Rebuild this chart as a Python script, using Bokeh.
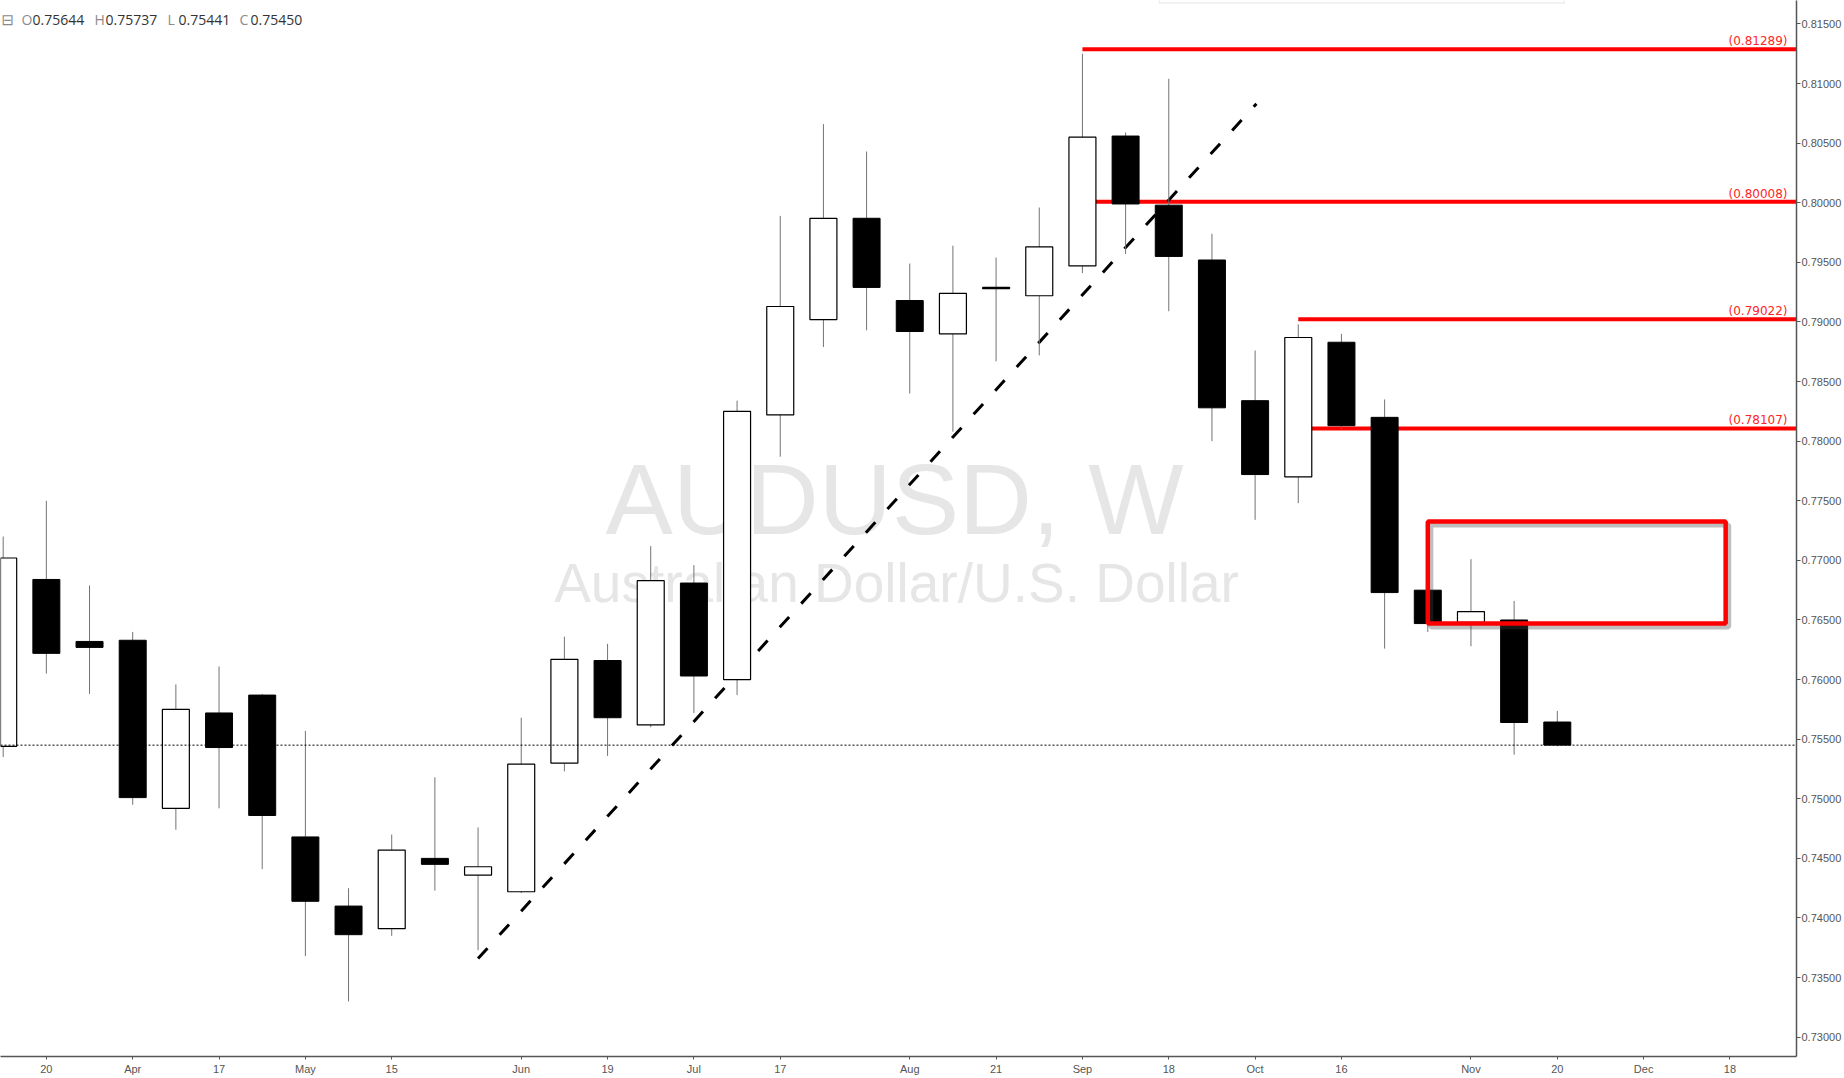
import datetime as dt
from bokeh.plotting import figure
from bokeh.models import (Range1d, FixedTicker, SingleIntervalTicker, NumeralTickFormatter,
                          Span, Label, ColumnDataSource, BoxAnnotation)
from bokeh.core.properties import value
from bokeh.embed import file_html
from bokeh.resources import INLINE

# ---------------- data ----------------
week_dates = ["2017-03-13", "2017-03-20", "2017-03-27", "2017-04-03", "2017-04-10", "2017-04-17",
              "2017-04-24", "2017-05-01", "2017-05-08", "2017-05-15", "2017-05-22", "2017-05-29",
              "2017-06-05", "2017-06-12", "2017-06-19", "2017-06-26", "2017-07-03", "2017-07-10",
              "2017-07-17", "2017-07-24", "2017-07-31", "2017-08-07", "2017-08-14", "2017-08-21",
              "2017-08-28", "2017-09-04", "2017-09-11", "2017-09-18", "2017-09-25", "2017-10-02",
              "2017-10-09", "2017-10-16", "2017-10-23", "2017-10-30", "2017-11-06", "2017-11-13",
              "2017-11-20"]
opens = [0.7544, 0.7684, 0.7632, 0.7633, 0.7492, 0.7572, 0.7587, 0.7468, 0.7410, 0.7391,
         0.7450, 0.7436, 0.7422, 0.7530, 0.7616, 0.7562, 0.7681, 0.7600, 0.7822, 0.7902,
         0.7987, 0.7918, 0.7890, 0.7928, 0.7922, 0.7947, 0.8056, 0.7998, 0.7952, 0.7834,
         0.7770, 0.7883, 0.7820, 0.7675, 0.7648, 0.7650, 0.75644]
highs = [0.7720, 0.7750, 0.7679, 0.7640, 0.7596, 0.7611, 0.7588, 0.7557, 0.7425, 0.7470,
         0.7518, 0.7476, 0.7568, 0.7636, 0.7630, 0.7712, 0.7696, 0.7834, 0.7989, 0.8066,
         0.8043, 0.7949, 0.7964, 0.7954, 0.7996, 0.8125, 0.8059, 0.8104, 0.7974, 0.7876,
         0.7898, 0.7890, 0.7835, 0.7675, 0.7701, 0.7666, 0.75737]
lows = [0.7535, 0.7605, 0.7588, 0.7495, 0.7474, 0.7492, 0.7441, 0.7368, 0.7330, 0.7385,
        0.7423, 0.7373, 0.7421, 0.7523, 0.7536, 0.7560, 0.7572, 0.7587, 0.7787, 0.7879,
        0.7893, 0.7840, 0.7808, 0.7867, 0.7872, 0.7941, 0.7957, 0.7909, 0.7800, 0.7734,
        0.7748, 0.7810, 0.7626, 0.7640, 0.7628, 0.7537, 0.75441]
closes = [0.7702, 0.7622, 0.7627, 0.7501, 0.7575, 0.7543, 0.7486, 0.7414, 0.7386, 0.7457,
          0.7445, 0.7443, 0.7529, 0.7617, 0.7568, 0.7683, 0.7603, 0.7825, 0.7913, 0.7987,
          0.7929, 0.7892, 0.7924, 0.7929, 0.7963, 0.8055, 0.7999, 0.7955, 0.7828, 0.7772,
          0.7887, 0.7813, 0.7673, 0.7647, 0.7657, 0.7564, 0.75450]

tick_dates = ["2017-03-20", "2017-04-03", "2017-04-17", "2017-05-01", "2017-05-15", "2017-06-05",
              "2017-06-19", "2017-07-03", "2017-07-17", "2017-08-07", "2017-08-21", "2017-09-04",
              "2017-09-18", "2017-10-02", "2017-10-16", "2017-11-06", "2017-11-20", "2017-12-04",
              "2017-12-18"]
tick_labels = ["20", "Apr", "17", "May", "15", "Jun", "19", "Jul", "17", "Aug", "21", "Sep",
               "18", "Oct", "16", "Nov", "20", "Dec", "18"]

level_values = [0.81289, 0.80008, 0.79022, 0.78107]
level_start_dates = ["2017-09-04", "2017-09-04", "2017-10-09", "2017-10-09"]

trend_weeks = [11.0, 29.03]
trend_prices = [0.7366, 0.8083]

zone_weeks = [33.0, 39.9]
zone_prices = [0.76471, 0.77327]

symbol_text = "AUDUSD, W"
description_text = "Australian Dollar/U.S. Dollar"

# ---------------- helpers ----------------
d0 = dt.date.fromisoformat(week_dates[0])


def wk(s):
    return (dt.date.fromisoformat(s) - d0).days / 7.0


xs = [wk(d) for d in week_dates]
up = [c >= o for o, c in zip(opens, closes)]


def src(mask):
    idx = [i for i, m in enumerate(mask) if m]
    return ColumnDataSource(dict(
        x=[xs[i] for i in idx],
        top=[max(opens[i], closes[i]) for i in idx],
        bottom=[min(opens[i], closes[i]) for i in idx],
    ))


FRAME_W, FRAME_H = 1796, 1056
x_range = Range1d(-0.0623, 41.541)
y_range = Range1d(0.72838, 0.81697)

p = figure(frame_width=FRAME_W, frame_height=FRAME_H, x_range=x_range, y_range=y_range,
           y_axis_location="right", output_backend="svg", toolbar_location=None,
           min_border_left=0, min_border_top=0, min_border_right=48, min_border_bottom=22,
           background_fill_color="white", border_fill_color="white")
p.outline_line_color = None
p.grid.visible = False

# watermark
p.add_layout(Label(x=894, y=FRAME_H - 498, x_units="screen", y_units="screen", text=symbol_text,
                   text_align="center", text_baseline="alphabetic", text_font="Liberation Sans",
                   text_font_size="101px", text_color="#e6e6e6", level="underlay"))
p.add_layout(Label(x=896, y=FRAME_H - 582, x_units="screen", y_units="screen", text=description_text,
                   text_align="center", text_baseline="alphabetic", text_font="Liberation Sans",
                   text_font_size="55px", text_color="#e6e6e6", level="underlay"))

# horizontal levels
p.ray(x=[wk(d) for d in level_start_dates], y=level_values, length=0, angle=0,
      line_color="#ff0000", line_width=4)

# trend line
p.line(trend_weeks, trend_prices, line_color="black", line_width=3, line_dash="14 18")

# candles
p.segment(x0=xs, y0=lows, x1=xs, y1=highs, line_color="#737373", line_width=1)
p.vbar(x="x", top="top", bottom="bottom", width=0.625, source=src(up),
       fill_color="white", line_color="black", line_width=1.2)
p.vbar(x="x", top="top", bottom="bottom", width=0.625, source=src([not u for u in up]),
       fill_color="black", line_color="black", line_width=1)

# zone rectangle with shadow
p.quad(left=[zone_weeks[0] + 0.07], right=[zone_weeks[1] + 0.07],
       bottom=[zone_prices[0] - 0.0003], top=[zone_prices[1] - 0.0003],
       fill_color=None, line_color="#444444", line_alpha=0.35, line_width=5)
p.quad(left=[zone_weeks[0]], right=[zone_weeks[1]], bottom=[zone_prices[0]], top=[zone_prices[1]],
       fill_color=None, line_color="#ff0000", line_width=4.5)

# level labels
p.text(x=[x_range.end] * len(level_values), y=level_values,
       text=["(%.5f)" % v for v in level_values], x_offset=-9, y_offset=-1,
       text_align="right", text_baseline="bottom", text_color="#ff2424",
       text_font=value("DejaVu Sans"), text_font_size="12px")

# last price line
p.add_layout(Span(location=closes[-1], dimension="width", line_color="black",
                  line_width=1, line_dash="2 2"))

# top toolbar widget edge (partly visible in the reference)
p.add_layout(BoxAnnotation(left=(1159 - 2.69) / 43.17, right=(1564 - 2.69) / 43.17,
                           bottom=y_range.end - 2.5 * (y_range.end - y_range.start) / FRAME_H,
                           top=y_range.end + 0.01, fill_color="white", fill_alpha=1,
                           line_color="#c4c4c4", line_width=1.5))

# legend (OHLC)
p.add_layout(Label(x=1, y=FRAME_H - 19, x_units="screen", y_units="screen", text="\u229f",
                   text_baseline="middle", text_font="DejaVu Sans", text_font_size="15px",
                   text_color="#8a8a8a"))
ohlc = [("O", opens[-1]), ("H", highs[-1]), ("L", lows[-1]), ("C", closes[-1])]
letter_x = [21, 94, 167, 239]
for (lt, v), lx in zip(ohlc, letter_x):
    p.add_layout(Label(x=lx, y=FRAME_H - 19, x_units="screen", y_units="screen", text=lt,
                       text_baseline="middle", text_font="Open Sans", text_font_size="14px",
                       text_color="#8c8c8c"))
    p.add_layout(Label(x=lx + 11, y=FRAME_H - 19, x_units="screen", y_units="screen",
                       text="%.5f" % v, text_baseline="middle", text_font="Open Sans",
                       text_font_size="14px", text_color="#333333"))

# axes
ya = p.yaxis[0]
ya.ticker = SingleIntervalTicker(interval=0.005, num_minor_ticks=0)
ya.formatter = NumeralTickFormatter(format="0.00000")
ya.axis_line_color = "#555555"
ya.axis_line_width = 1.5
ya.major_tick_line_color = "#555555"
ya.major_tick_out = 4
ya.major_tick_in = 0
ya.minor_tick_line_color = None
ya.major_label_standoff = 1
ya.major_label_text_font = "Liberation Sans"
ya.major_label_text_font_size = "11px"
ya.major_label_text_color = "#555555"

xa = p.xaxis[0]
tick_pos = [wk(d) for d in tick_dates]
xa.ticker = FixedTicker(ticks=tick_pos)
xa.major_label_overrides = {t: lab for t, lab in zip(tick_pos, tick_labels)}
xa.axis_line_color = "#555555"
xa.axis_line_width = 1.5
xa.major_tick_line_color = "#555555"
xa.major_tick_out = 3
xa.major_tick_in = 0
xa.minor_tick_line_color = None
xa.major_label_standoff = 3
xa.major_label_text_font = "Liberation Sans"
xa.major_label_text_font_size = "11px"
xa.major_label_text_color = "#555555"

open("out.html", "w").write(file_html(p, INLINE))
